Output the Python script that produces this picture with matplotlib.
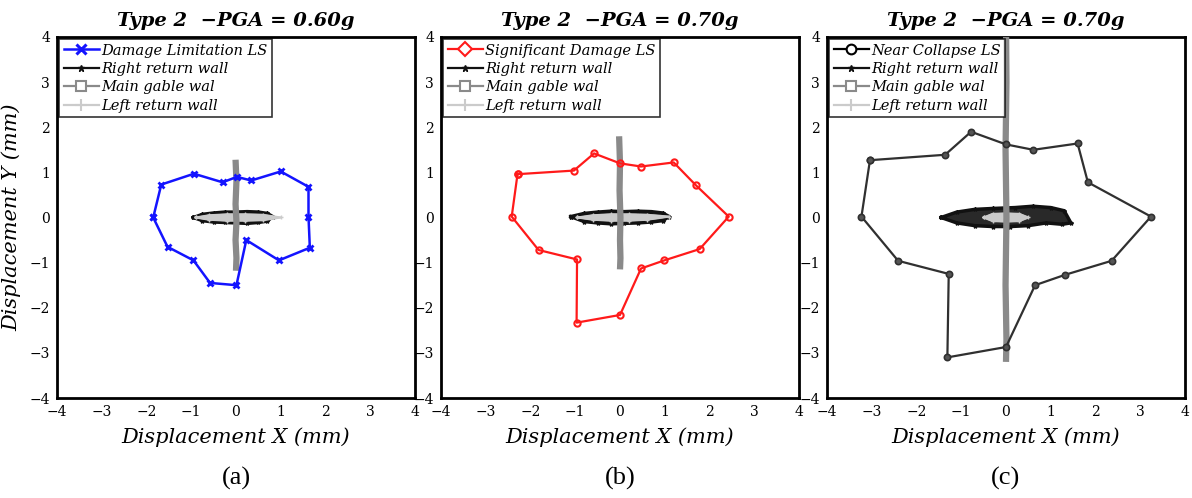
import matplotlib
matplotlib.use("Agg")
import matplotlib.pyplot as plt
from matplotlib.lines import Line2D

# ---------------- data ----------------
titles = ["Type 2  \u2212PGA = 0.60g", "Type 2  \u2212PGA = 0.70g", "Type 2  \u2212PGA = 0.70g"]
panel_tags = ["(a)", "(b)", "(c)"]
ls_names = ["Damage Limitation LS", "Significant Damage LS", "Near Collapse LS"]
wall_names = ["Right return wall", "Main gable wal", "Left return wall"]
ticks = [-4, -3, -2, -1, 0, 1, 2, 3, 4]

# limit-state polygons (closed)
dl_x = [-1.85, -1.67, -0.94, -0.30, 0.02, 0.34, 1.00, 1.62, 1.62, 1.65, 0.96, 0.23, 0.01, -0.58, -0.95, -1.53, -1.85]
dl_y = [0.00, 0.73, 0.97, 0.78, 0.90, 0.82, 1.02, 0.68, 0.02, -0.67, -0.95, -0.50, -1.50, -1.45, -0.95, -0.65, 0.00]

sd_x = [-2.29, -1.03, -0.58, 0.00, 0.47, 1.20, 1.70, 2.43, 1.78, 0.99, 0.47, 0.00, -0.97, -0.96, -1.82, -2.42, -2.29]
sd_y = [0.96, 1.04, 1.42, 1.20, 1.13, 1.22, 0.71, 0.02, -0.70, -0.95, -1.13, -2.16, -2.33, -0.93, -0.72, 0.02, 0.96]

nc_x = [-3.04, -1.36, -0.78, 0.00, 0.61, 1.60, 1.83, 3.24, 2.36, 1.32, 0.65, 0.00, -1.31, -1.28, -2.41, -3.23, -3.04]
nc_y = [1.27, 1.39, 1.90, 1.62, 1.50, 1.64, 0.78, 0.02, -0.96, -1.27, -1.50, -2.87, -3.10, -1.25, -0.96, 0.02, 1.27]

# wall response traces (approximate outlines)
right_a_x = [-0.95, -0.75, -0.50, -0.25, 0.00, 0.25, 0.50, 0.70, 0.82, 0.70, 0.50, 0.25, 0.00, -0.25, -0.50, -0.75, -0.95]
right_a_y = [0.00, 0.07, 0.10, 0.12, 0.12, 0.13, 0.12, 0.09, 0.02, -0.08, -0.11, -0.13, -0.12, -0.11, -0.10, -0.07, 0.00]
left_a_x = [-0.90, -0.60, -0.20, 0.20, 0.60, 1.00, 0.60, 0.20, -0.20, -0.60, -0.90]
left_a_y = [0.00, 0.05, 0.07, 0.07, 0.06, 0.00, -0.06, -0.07, -0.07, -0.05, 0.00]
gable_a_x = [-0.01, 0.01, -0.01, 0.01, -0.01, 0.01, 0.00]
gable_a_y = [1.28, 0.80, 0.30, -0.10, -0.50, -0.90, -1.18]

right_b_x = [-1.10, -0.80, -0.50, -0.20, 0.10, 0.40, 0.70, 0.95, 1.10, 0.95, 0.70, 0.40, 0.10, -0.20, -0.50, -0.80, -1.10]
right_b_y = [0.02, 0.09, 0.12, 0.14, 0.13, 0.14, 0.13, 0.10, 0.02, -0.07, -0.10, -0.12, -0.13, -0.14, -0.12, -0.09, 0.02]
left_b_x = [-0.95, -0.60, -0.20, 0.20, 0.60, 1.10, 0.60, 0.20, -0.20, -0.60, -0.95]
left_b_y = [0.00, 0.05, 0.07, 0.07, 0.06, 0.02, -0.05, -0.07, -0.07, -0.05, 0.00]
gable_b_x = [-0.02, 0.00, -0.01, 0.01, 0.00, 0.01, 0.00]
gable_b_y = [1.80, 1.20, 0.60, 0.00, -0.50, -0.90, -1.15]

right_c_x = [-1.45, -1.10, -0.70, -0.30, 0.20, 0.60, 1.00, 1.30, 1.45, 1.25, 0.90, 0.50, 0.10, -0.30, -0.70, -1.10, -1.45]
right_c_y = [0.00, 0.12, 0.18, 0.20, 0.22, 0.25, 0.22, 0.15, -0.12, -0.15, -0.12, -0.18, -0.20, -0.20, -0.18, -0.12, 0.00]
left_c_x = [-0.50, -0.30, 0.00, 0.30, 0.50, 0.30, 0.00, -0.30, -0.50]
left_c_y = [0.00, 0.08, 0.09, 0.08, 0.00, -0.08, -0.09, -0.08, 0.00]
gable_c_x = [0.00, 0.01, -0.01, 0.01, -0.01, 0.01, 0.00]
gable_c_y = [4.40, 3.00, 1.50, 0.00, -1.50, -2.70, -3.20]

# ---------------- style ----------------
plt.rcParams['font.family'] = ['DejaVu Serif']
plt.rcParams['mathtext.fontset'] = 'dejavuserif'

ls_colors = ['#1414ff', '#ff1a1a', '#303030']
right_col = '#111111'
gable_col = '#8a8a8a'
left_col = '#cbcbcb'

fig = plt.figure(figsize=(11.92, 4.98), dpi=100)
lefts = [57 / 1192, 441 / 1192, 827 / 1192]
W = 358 / 1192
B = 1 - 398 / 498
H = 361 / 498

ls_data = [(dl_x, dl_y), (sd_x, sd_y), (nc_x, nc_y)]
walls = [
    (right_a_x, right_a_y, left_a_x, left_a_y, gable_a_x, gable_a_y),
    (right_b_x, right_b_y, left_b_x, left_b_y, gable_b_x, gable_b_y),
    (right_c_x, right_c_y, left_c_x, left_c_y, gable_c_x, gable_c_y),
]

for i in range(3):
    ax = fig.add_axes([lefts[i], B, W, H])
    rx, ry, lx, ly, gx, gy = walls[i]
    # right return wall
    ax.fill(rx, ry, color=right_col, alpha=0.9, zorder=2)
    ax.plot(rx, ry, color=right_col, lw=2.5, marker='*', ms=3, zorder=2)
    # left return wall
    ax.fill(lx, ly, color=left_col, zorder=3)
    ax.plot(lx, ly, color=left_col, lw=1.5, marker='+', ms=3, zorder=3)
    # main gable wall
    ax.plot(gx, gy, color=gable_col, lw=4.5, solid_capstyle='butt', zorder=4)
    # limit state polygon
    px, py = ls_data[i]
    if i == 0:
        ax.plot(px, py, color=ls_colors[0], lw=1.8, marker='x', ms=5, mew=2, zorder=5)
        ls_handle = Line2D([], [], color=ls_colors[0], lw=1.8, marker='x', ms=7, mew=2.2)
    elif i == 1:
        ax.plot(px, py, color=ls_colors[1], lw=1.6, marker='o', ms=4.5, mfc='none', mew=1.5, zorder=5)
        ls_handle = Line2D([], [], color=ls_colors[1], lw=1.6, marker='D', ms=7, mfc='white', mew=1.5)
    else:
        ax.plot(px, py, color=ls_colors[2], lw=1.6, marker='o', ms=4.5, mfc='#555555', mew=1.2, zorder=5)
        ls_handle = Line2D([], [], color='black', lw=1.6, marker='o', ms=7, mfc='white', mew=1.5)

    handles = [
        ls_handle,
        Line2D([], [], color=right_col, lw=1.6, marker='*', ms=5),
        Line2D([], [], color=gable_col, lw=1.6, marker='s', ms=7, mfc='white', mew=1.5),
        Line2D([], [], color=left_col, lw=1.6, marker='+', ms=8, mew=1.5),
    ]
    leg = ax.legend(handles, [ls_names[i]] + wall_names, loc='upper left',
                    prop={'family': 'DejaVu Serif', 'style': 'italic', 'size': 10.5},
                    frameon=True, fancybox=False, edgecolor='black',
                    borderaxespad=0.15, handlelength=2.4, handletextpad=0.2,
                    borderpad=0.3, labelspacing=0.3)
    leg.get_frame().set_linewidth(1.2)
    leg.set_zorder(10)

    ax.set_xlim(-4, 4)
    ax.set_ylim(-4, 4)
    ax.set_xticks(ticks)
    ax.set_yticks(ticks)
    ax.set_xticklabels([f"\u2212{abs(t)}" if t < 0 else str(t) for t in ticks])
    ax.set_yticklabels([f"\u2212{abs(t)}" if t < 0 else str(t) for t in ticks])
    ax.tick_params(length=0, labelsize=10, pad=5)
    for s in ax.spines.values():
        s.set_linewidth(2)
        s.set_color('black')
    ax.set_title(titles[i], fontsize=14, fontweight='bold', fontstyle='italic', pad=8)
    ax.set_xlabel("Displacement X (mm)", fontsize=15, fontstyle='italic', labelpad=6)
    if i == 0:
        ax.set_ylabel("Displacement Y (mm)", fontsize=15, fontstyle='italic', labelpad=6)
    ax.text(0.5, -0.222, panel_tags[i], transform=ax.transAxes, ha='center', va='center',
            fontsize=19, family='Liberation Serif')

fig.savefig("out.png", dpi=100)
